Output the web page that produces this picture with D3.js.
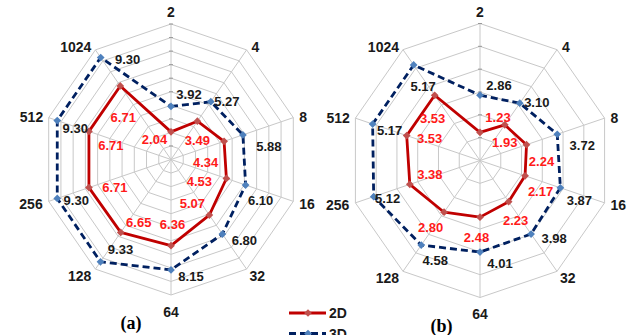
<!DOCTYPE html>
<html><head><meta charset="utf-8">
<script src="https://cdn.jsdelivr.net/npm/d3@7"></script>
<style>
html,body{margin:0;padding:0;background:#fff;}
svg{display:block;}
</style></head>
<body>
<svg id="chart" width="639" height="335"></svg>
<script>
// ---- data ----
const categories = ["2","4","8","16","32","64","128","256","512","1024"];
const seriesNames = ["2D","3D"];
const a2D = [2.04,3.49,4.34,4.53,5.07,6.36,6.65,6.71,6.71,6.71];
const a3D = [3.92,5.27,5.88,6.10,6.80,8.15,9.33,9.30,9.30,9.30];
const b2D = [1.23,1.93,2.24,2.17,2.23,2.48,2.80,3.38,3.53,3.53];
const b3D = [2.86,3.10,3.72,3.87,3.98,4.01,4.58,5.12,5.17,5.17];
const aTicks = [0,1,2,3,4,5,6,7,8,9,10];
const bTicks = [0,1,2,3,4,5,6];
const panelLabels = ["(a)","(b)"];

// ---- layout (positions / styles) ----
const svg = d3.select("#chart");
const FONT = "Arial, 'Liberation Sans', sans-serif";
const RED_LINE = "#c00000", RED_MK = "#c0504d", NAVY = "#002060", BLUE_MK = "#4f81bd";
const GRID = "#c8c8c8";

const axisLabelOff = [[0,-12,"middle"],[5,-2.5,"start"],[6,-0.5,"start"],[6,2.5,"start"],[3,7,"start"],
  [0,16.5,"middle"],[-4,7,"end"],[-6,2.5,"end"],[-5.5,-0.5,"end"],[-4,-3,"end"]];

const panels = [
  {cx:171, cy:159.5, rx:128.6, ry:135.5, ticks:aTicks, s2:a2D, s3:a3D, cap:panelLabels[0], capX:131, capY:329,
   off3:[[18,-12],[16,0],[26,12],[15,15],[22,6],[20,7],[20,-12],[19,2],[18,8],[27,2]],
   off2:[[-16.5,8],[0,19],[-18.5,21],[-27,3.5],[-17,-12],[1.5,-21],[18,-10],[26,0],[22,14],[3,32]]},
  {cx:480, cy:160.5, rx:131, ry:137, ticks:bTicks, s2:b2D, s3:b3D, cap:panelLabels[1], capX:441.5, capY:332,
   off3:[[19,-10],[17,-1],[25,11],[19,13],[23,4.5],[20,11],[14,15],[14,1.5],[17,6],[9.5,22]],
   off2:[[18,-15],[0,18],[15,17],[15.5,16],[7,19],[-3.5,20],[-13.5,15],[20,-10],[23,2.5],[-2,23]]}
];

const diamond = d3.symbol().type(d3.symbolSquare).size(30);

panels.forEach(p => {
  const g = svg.append("g");
  const maxV = d3.max(p.ticks);
  const angle = d3.scalePoint().domain(categories).range([0, 2*Math.PI*(categories.length-1)/categories.length]);
  const rX = d3.scaleLinear().domain([0,maxV]).range([0,p.rx]);
  const rY = d3.scaleLinear().domain([0,maxV]).range([0,p.ry]);
  const px = (c,v) => p.cx + rX(v)*Math.sin(angle(c));
  const py = (c,v) => p.cy - rY(v)*Math.cos(angle(c));

  // rings
  p.ticks.filter(t=>t>0).forEach(t => {
    g.append("path")
      .attr("d", d3.line()(categories.map(c=>[px(c,t),py(c,t)])) + "Z")
      .attr("fill","none").attr("stroke",GRID).attr("stroke-width",1);
  });
  // spokes
  categories.forEach(c => {
    g.append("line").attr("x1",p.cx).attr("y1",p.cy).attr("x2",px(c,maxV)).attr("y2",py(c,maxV))
      .attr("stroke",GRID).attr("stroke-width",1);
  });
  // small ticks on first axis
  p.ticks.filter(t=>t>0).forEach(t => {
    g.append("line").attr("x1",px(categories[0],t)-2).attr("x2",px(categories[0],t)+2)
      .attr("y1",py(categories[0],t)).attr("y2",py(categories[0],t))
      .attr("stroke","#999").attr("stroke-width",1);
  });
  // axis labels
  categories.forEach((c,i) => {
    const o = axisLabelOff[i];
    g.append("text").attr("x",px(c,maxV)+o[0]).attr("y",py(c,maxV)+o[1])
      .attr("text-anchor",o[2]).attr("dominant-baseline","central")
      .attr("font-family",FONT).attr("font-weight","bold").attr("font-size",14).attr("fill","#1a1a1a")
      .text(c);
  });
  // series lines
  const line3 = categories.map((c,i)=>[px(c,p.s3[i]),py(c,p.s3[i])]);
  const line2 = categories.map((c,i)=>[px(c,p.s2[i]),py(c,p.s2[i])]);
  g.append("path").attr("d", d3.line()(line3)+"Z").attr("fill","none")
    .attr("stroke",NAVY).attr("stroke-width",2.8).attr("stroke-dasharray","7,4");
  g.append("path").attr("d", d3.line()(line2)+"Z").attr("fill","none")
    .attr("stroke",RED_LINE).attr("stroke-width",2.8).attr("stroke-linejoin","round");
  // markers
  line3.forEach(pt => g.append("path").attr("d",diamond()).attr("fill",BLUE_MK)
    .attr("transform",`translate(${pt[0]},${pt[1]}) rotate(45)`));
  line2.forEach(pt => g.append("path").attr("d",diamond()).attr("fill",RED_MK)
    .attr("transform",`translate(${pt[0]},${pt[1]}) rotate(45)`));
  // value labels
  categories.forEach((c,i) => {
    g.append("text").attr("x",px(c,p.s3[i])+p.off3[i][0]).attr("y",py(c,p.s3[i])+p.off3[i][1])
      .attr("text-anchor","middle").attr("dominant-baseline","central")
      .attr("font-family",FONT).attr("font-size",13).attr("font-weight","600").attr("fill","#1a1a1a")
      .text(p.s3[i].toFixed(2));
    g.append("text").attr("x",px(c,p.s2[i])+p.off2[i][0]).attr("y",py(c,p.s2[i])+p.off2[i][1])
      .attr("text-anchor","middle").attr("dominant-baseline","central")
      .attr("font-family",FONT).attr("font-size",13).attr("font-weight","bold").attr("fill","#ff1a1a")
      .text(p.s2[i].toFixed(2));
  });
  // panel caption
  g.append("text").attr("x",p.capX).attr("y",p.capY).attr("text-anchor","middle")
    .attr("font-family","'Times New Roman', 'Liberation Serif', serif").attr("font-weight","bold")
    .attr("font-size",18).attr("fill","#000").text(p.cap);
});

// legend
const leg = svg.append("g");
const legRows = [{name:seriesNames[0], y:313, stroke:RED_LINE, mk:RED_MK, dash:null},
                 {name:seriesNames[1], y:333.5, stroke:NAVY, mk:BLUE_MK, dash:"7,4"}];
legRows.forEach(r => {
  const ln = leg.append("line").attr("x1",289).attr("x2",326).attr("y1",r.y).attr("y2",r.y)
    .attr("stroke",r.stroke).attr("stroke-width",2.8);
  if (r.dash) ln.attr("stroke-dasharray",r.dash);
  leg.append("path").attr("d",diamond()).attr("fill",r.mk)
    .attr("transform",`translate(308,${r.y}) rotate(45)`);
  leg.append("text").attr("x",329).attr("y",r.y).attr("dominant-baseline","central")
    .attr("font-family",FONT).attr("font-weight","bold").attr("font-size",14).attr("fill","#1a1a1a")
    .text(r.name);
});
</script>
</body></html>
